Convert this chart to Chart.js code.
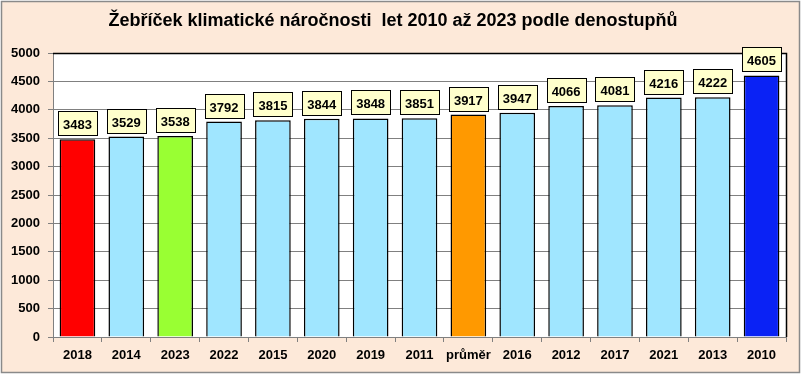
<!DOCTYPE html>
<html>
<head>
<meta charset="utf-8">
<script src="https://cdn.jsdelivr.net/npm/chart.js@4.4.0/dist/chart.umd.min.js"></script>
<style>
html,body{margin:0;padding:0;background:#ffffff;}
#wrap{width:802px;height:374px;position:relative;}
</style>
</head>
<body>
<div id="wrap"><canvas id="c" width="802" height="374"></canvas></div>
<script>
const titleText = 'Žebříček klimatické náročnosti  let 2010 až 2023 podle denostupňů';
const categories = ['2018','2014','2023','2022','2015','2020','2019','2011','průměr','2016','2012','2017','2021','2013','2010'];
const values = [3483,3529,3538,3792,3815,3844,3848,3851,3917,3947,4066,4081,4216,4222,4605];
const barColors = ['#FF0000','#A0E6FF','#99FF33','#A0E6FF','#A0E6FF','#A0E6FF','#A0E6FF','#A0E6FF','#FF9900','#A0E6FF','#A0E6FF','#A0E6FF','#A0E6FF','#A0E6FF','#0A22F5'];
const yMin = 0, yMax = 5000, yStep = 500;

const FONT = '"Liberation Sans", Arial, sans-serif';

const bgPlugin = {
  id: 'bg',
  beforeDraw(chart) {
    const ctx = chart.ctx;
    ctx.save();
    ctx.fillStyle = '#ffffff';
    ctx.fillRect(0, 0, chart.width, chart.height);
    ctx.fillStyle = '#FDE9D9';
    ctx.fillRect(1.5, 1.5, 798, 371);
    ctx.strokeStyle = '#8A8A8A';
    ctx.lineWidth = 1.5;
    ctx.strokeRect(1.5, 1.5, 798, 371);
    const a = chart.chartArea;
    ctx.fillStyle = '#ffffff';
    ctx.fillRect(a.left, a.top, a.right - a.left, a.bottom - a.top);
    ctx.restore();
  }
};

const labelPlugin = {
  id: 'labels',
  afterDatasetsDraw(chart) {
    const ctx = chart.ctx;
    const a = chart.chartArea;
    ctx.save();
    ctx.strokeStyle = '#000000';
    ctx.lineWidth = 1.5;
    ctx.beginPath();
    ctx.moveTo(a.left, a.top + 0.5);
    ctx.lineTo(a.right + 0.5, a.top + 0.5);
    ctx.lineTo(a.right + 0.5, a.bottom);
    ctx.stroke();
    const meta = chart.getDatasetMeta(0);
    ctx.font = 'bold 13px ' + FONT;
    ctx.textAlign = 'center';
    ctx.textBaseline = 'middle';
    meta.data.forEach((bar, i) => {
      const w = 39, h = 24;
      const bx = Math.round(bar.x - w / 2) + 0.5;
      const by = Math.round(bar.y - 4 - h) + 0.5;
      ctx.fillStyle = '#FFFFCC';
      ctx.fillRect(bx, by, w, h);
      ctx.strokeStyle = '#000000';
      ctx.lineWidth = 1;
      ctx.strokeRect(bx, by, w, h);
      ctx.fillStyle = '#000000';
      ctx.fillText(String(values[i]), bar.x, by + h / 2 + 1.5);
    });
    ctx.restore();
  }
};

new Chart(document.getElementById('c'), {
  type: 'bar',
  data: {
    labels: categories,
    datasets: [{
      data: values,
      backgroundColor: barColors,
      borderColor: '#000000',
      borderWidth: 1.5,
      barPercentage: 0.73,
      categoryPercentage: 1.0
    }]
  },
  options: {
    responsive: false,
    animation: false,
    devicePixelRatio: 1,
    layout: { padding: { left: 0, right: 16, top: 0, bottom: 0 } },
    plugins: {
      legend: { display: false },
      tooltip: { enabled: false },
      title: {
        display: true,
        text: titleText,
        color: '#000000',
        font: { family: FONT, size: 18, weight: 'bold' },
        padding: { top: 10, bottom: 21.4 }
      }
    },
    scales: {
      x: {
        afterFit(scale) { scale.height = 37; },
        grid: { display: true, drawOnChartArea: false, drawTicks: true, tickLength: 5, color: '#808080', offset: true },
        border: { color: '#808080', width: 1 },
        ticks: { color: '#000000', font: { family: FONT, size: 13, weight: 'bold' }, padding: 6, maxRotation: 0, autoSkip: false }
      },
      y: {
        min: yMin, max: yMax,
        afterFit(scale) { scale.width = 53; },
        grid: { color: '#808080', lineWidth: 1, drawTicks: true, tickLength: 5 },
        border: { color: '#808080', width: 1 },
        ticks: {
          stepSize: yStep, color: '#000000',
          font: { family: FONT, size: 13, weight: 'bold' }, padding: 8,
          callback: (v) => String(v)
        }
      }
    }
  },
  plugins: [bgPlugin, labelPlugin]
});
</script>
</body>
</html>
